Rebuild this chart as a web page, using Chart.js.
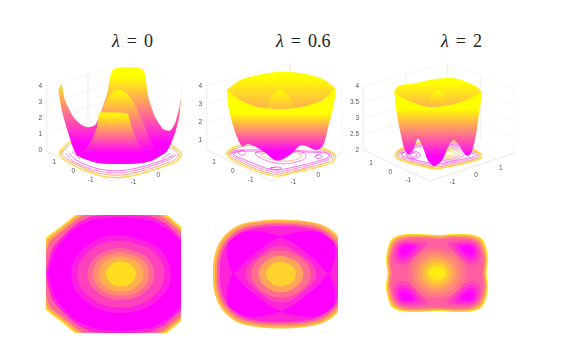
<!DOCTYPE html>
<html>
<head>
<meta charset="utf-8">
<style>
  body { margin: 0; background: #fff; }
  canvas { position: absolute; }
  .t { position: absolute; top: 31px; font: 18px "Liberation Serif", serif; word-spacing: 2.5px; color: #222; white-space: nowrap; }
</style>
<script src="https://cdn.jsdelivr.net/npm/chart.js@4"></script>
</head>
<body>
<div class="t" style="left:112px"><i>λ</i> = 0</div>
<div class="t" style="left:276px"><i>λ</i> = 0.6</div>
<div class="t" style="left:441px"><i>λ</i> = 2</div>

<canvas id="s0" width="160" height="128" style="left:30px;top:62px"></canvas>
<canvas id="s1" width="164" height="128" style="left:190px;top:62px"></canvas>
<canvas id="s2" width="170" height="128" style="left:347px;top:62px"></canvas>
<canvas id="h0" width="135" height="118" style="left:46px;top:215px"></canvas>
<canvas id="h1" width="132" height="120" style="left:206px;top:214px"></canvas>
<canvas id="h2" width="120" height="120" style="left:377px;top:213px"></canvas>

<script>
// ---- top row: view position u, height z ----
const zTicks0 = [0, 1, 2, 3, 4];
const zTicks1 = [1, 2, 3, 4];
const zTicks2 = [2, 2.5, 3, 3.5, 4];

const floorText0 = ["1", "0", "-1", "-1", "0"];
const floorU0 = [-5.57, -3.67, -1.93, 2.33, 4.83];
const floorZ0 = [-0.79, -1.35, -1.9, -2.02, -1.6];
const floorText1 = ["1", "0", "-1", "-1", "0"];
const floorU1 = [-5.6, -3.73, -1.93, 2.33, 4.83];
const floorZ1 = [-0.2, -0.69, -1.16, -1.27, -0.91];
const floorText2 = ["1", "0", "-1", "-1", "0", "1"];
const floorU2 = [-5.9, -4, -2.2, 2.17, 4.53, 7];
const floorZ2 = [1.6, 1.3, 1.05, 0.98, 1.21, 1.44];

const box0 = [
  [[-6.33, 4.02], [-6.33, -0.1]], [[7.17, -0.21], [7.17, 3.85], [2, 5.42], [-6.33, 4.02]],
  [[2, 5.42], [2, 1.25]], [[-2.2, 4.7], [-2.2, 0.6]],
  [[-6.33, 3], [2, 4.42], [7.17, 2.85]], [[-6.33, 2], [2, 3.42], [7.17, 1.85]], [[-6.33, 1], [2, 2.42], [7.17, 0.85]],
];
const box1 = [
  [[-6.33, 4], [-6.33, 0.49]], [[7.17, 0.31], [7.17, 3.85], [2, 5.22], [-6.33, 4]],
  [[2, 5.22], [2, 1.58]], [[-2.2, 4.6], [-2.2, 1.05]], [[4.6, 4.55], [4.6, 0.95]],
  [[-6.33, 3], [2, 4.22], [7.17, 2.85]], [[-6.33, 2], [2, 3.22], [7.17, 1.85]], [[-6.33, 1], [2, 2.22], [7.17, 0.85]],
];
const box2 = [
  [[-6.67, 4.01], [-6.67, 2]], [[8.33, 1.9], [8.33, 3.93], [1.67, 4.71], [-6.67, 4.01]],
  [[1.67, 4.71], [1.67, 2.68]], [[-2.5, 4.35], [-2.5, 2.35]], [[5, 4.32], [5, 2.3]],
  [[-6.67, 3.5], [1.67, 4.2], [8.33, 3.42]], [[-6.67, 3], [1.67, 3.7], [8.33, 2.92]], [[-6.67, 2.5], [1.67, 3.2], [8.33, 2.42]],
];
const edge0 = [[-6.33, -0.1], [0.17, -1.94], [7.17, -0.21]];
const edge1 = [[-6.33, 0.49], [0.17, -1.2], [7.17, 0.31]];
const edge2 = [[-6.67, 2], [-0.1, 1.03], [8.33, 1.9]];

const floor0Yellow = [[-5.07, -0.21], [-4.5, 0.25], [-3.67, 0.58], [1.07, 1.04], [5.67, 0.42], [7.13, -0.31], [6, -0.88], [1.67, -1.67], [-1, -1.6], [-4, -0.83]];
const floor0Orange = [[-4.83, -0.21], [-4.33, 0.17], [-3.5, 0.52], [1.07, 0.94], [5.53, 0.29], [6.87, -0.31], [5.83, -0.79], [1.67, -1.52], [-1, -1.46], [-3.83, -0.75]];
const floor0Pink = [[-4.4, -0.2], [-3.7, -0.7], [-1, -1.33], [1.67, -1.38], [5.6, -0.7], [6.6, -0.3]];
const floor0Magenta = [[-4.1, -0.2], [-3.4, -0.62], [-1, -1.2], [1.67, -1.25], [5.4, -0.62], [6.3, -0.3]];
const floor0StubA = [[-3.8, -0.1], [-3, -0.56]];
const floor0StubB = [[6, -0.2], [5.2, -0.55]];

const floor1Yellow = [[-4.33, 0.27], [-3.67, 0.64], [-1.33, 0.89], [2, 0.95], [5.33, 0.58], [6.53, 0.22], [6.17, -0.2], [2.33, -0.75], [0.33, -0.93], [-3, -0.27]];
const floor1Orange = [[-4.13, 0.27], [-3.53, 0.56], [-1.33, 0.8], [2, 0.85], [5.27, 0.49], [6.33, 0.22], [6, -0.13], [2.33, -0.65], [0.33, -0.82], [-2.83, -0.2]];
const floor1Pink = [[-3.93, 0.27], [-3.33, 0.49], [5.17, 0.4], [6.13, 0.22], [5.8, -0.05], [2.33, -0.55], [0.33, -0.71], [-2.67, -0.13]];
const floor1Magenta = [[-3.73, 0.27], [-3.17, 0.42], [5, 0.35], [5.93, 0.22], [5.6, 0.02], [2.33, -0.45], [0.33, -0.6], [-2.5, -0.05]];
const floor1LoopA = [[-3.17, 0.35], [-2.83, 0.47], [-2.43, 0.35], [-2.83, 0.2]];
const floor1LoopB = [[4.5, 0.13], [4.83, 0.24], [5.23, 0.13], [4.83, 0.02]];
const floor1LoopC = [[0, -0.51], [0.6, -0.44], [1.17, -0.51], [0.6, -0.58]];
const floor1LoopD = [[-1.5, 0.31], [0.67, 0.5], [3.5, 0.3], [3.33, -0.05], [0.67, -0.24]];
const floor1LoopE = [[-0.9, 0.25], [0.9, 0.45], [3.05, 0.25], [2.9, 0], [0.7, -0.1]];

const floor2Yellow = [[-3.5, 1.88], [-3, 2.02], [-0.67, 2.26], [2.33, 2.29], [4.5, 1.98], [5.07, 1.84], [4.83, 1.71], [1, 1.43], [-0.17, 1.45], [-3.17, 1.71]];
const floor2Orange = [[-3.3, 1.88], [-2.85, 2], [-0.67, 2.22], [2.33, 2.25], [4.35, 1.96], [4.85, 1.84], [4.65, 1.74], [1, 1.48], [-0.17, 1.5], [-3, 1.75]];
const floor2Pink = [[-3.1, 1.88], [-2.7, 1.97], [-0.67, 2.18], [2.33, 2.21], [4.2, 1.94], [4.65, 1.84], [4.45, 1.77], [1, 1.53], [-0.17, 1.55], [-2.85, 1.78]];
const floor2Magenta = [[-2.9, 1.88], [-2.5, 1.95], [-0.67, 2.14], [2.33, 2.17], [4, 1.92], [4.4, 1.84], [4.2, 1.79], [1, 1.58], [-0.17, 1.6], [-2.65, 1.8]];
const floor2LoopA = [[0.23, 1.9], [1.83, 2.15], [3.43, 1.9], [1.83, 1.65]];
const floor2LoopB = [[0.53, 1.9], [1.83, 2.1], [3.13, 1.9], [1.83, 1.7]];
const floor2LoopC = [[0.83, 1.9], [1.83, 2.06], [2.83, 1.9], [1.83, 1.74]];
const floor2LoopD = [[1.13, 1.9], [1.83, 2.01], [2.53, 1.9], [1.83, 1.79]];
const floor2LoopE = [[1.43, 1.9], [1.83, 1.97], [2.23, 1.9], [1.83, 1.83]];
const floor2LoopF = [[-2.4, 1.85], [-1.7, 1.97], [-1, 1.85], [-1.7, 1.73]];
const floor2LoopG = [[-2.1, 1.85], [-1.7, 1.92], [-1.3, 1.85], [-1.7, 1.78]];

const surf0Back = [[-4.83, 4.17], [-4.5, 3.13], [-3.67, 2.08], [-2.83, 1.56], [-2.17, 1.42], [-1.5, 1.56], [-1, 2.19], [-0.27, 3.54], [0.33, 5.04], [3.27, 5.04], [3.83, 3.33], [4.5, 2.08], [5.33, 1.29], [6, 1.21], [6.5, 1.67], [6.93, 2.71], [7.1, 3.29], [6.93, 2.08], [6.5, 1.04], [5.67, -0.1], [4.33, -0.63], [3.33, -0.79], [1, -0.88], [-1.33, -0.79], [-3.33, -0.31], [-4.17, 1.04], [-4.83, 2.5], [-5.17, 3.75]];
const surf0Hump = [[-1, 2.08], [-0.27, 3.23], [0.33, 3.65], [0.93, 3.75], [1.6, 3.58], [2.33, 3.02], [3.33, 1.67], [4.17, 0.42], [4.83, -0.31], [1, -0.63], [-1, -0.21]];
const surf0Front = [[-1.1, 2.35], [1.73, 2.29], [2.17, 1.46], [2.83, 0.42], [3.83, -0.38], [4.33, -0.63], [3.33, -0.79], [1, -0.88], [-1.33, -0.79], [-3.33, -0.31], [-2.67, -0.1], [-1.83, 0.63], [-1.27, 1.46]];

const surf1Back = [[-4.33, 3.76], [-3, 4.31], [-1.33, 4.58], [1, 4.76], [3.33, 4.67], [5.33, 4.35], [6.5, 3.85], [6.5, 3.67], [3, 2.49], [1, 2.33], [-1.33, 2.49], [-4.33, 3.67]];
const surf1Hump = [[-0.5, 2.67], [0.17, 3.44], [1, 3.76], [1.83, 3.44], [2.67, 2.67]];
const surf1Front = [[-4.33, 3.8], [-3, 3.22], [-1.33, 2.85], [1, 2.71], [3, 2.82], [5.33, 3.22], [6.5, 3.8], [6.33, 2.85], [5.83, 1.76], [5.33, 0.76], [4.67, 0.49], [3.17, 0.76], [2, 0.22], [0.67, -0.09], [-0.73, 0.45], [-2.17, 0.82], [-2.83, 0.71], [-3.67, 1.76], [-4.17, 2.85]];

const surf2Back = [[-3.57, 3.85], [-3.17, 4.01], [-1.67, 4.08], [0.33, 4.21], [2.33, 4.24], [4.33, 4.03], [5.07, 3.82], [5.07, 3.72], [2, 3.15], [-0.33, 3.15], [-3.57, 3.72]];
const surf2Hump = [[-0.17, 3.38], [0.17, 3.75], [0.73, 3.88], [1.33, 3.75], [1.83, 3.38]];
const surf2Front = [[-3.57, 3.83], [-2.67, 3.61], [-0.33, 3.35], [2, 3.41], [4, 3.61], [5.07, 3.81], [4.83, 3.15], [4.5, 2.42], [4.07, 1.92], [3.73, 1.81], [3.33, 1.9], [2.83, 2.16], [2.33, 2.31], [1.83, 2.16], [1.17, 1.69], [0.4, 1.5], [-0.27, 1.69], [-0.83, 2.16], [-1.23, 2.36], [-1.67, 2.05], [-2.17, 1.86], [-2.6, 2.05], [-3.17, 2.83], [-3.5, 3.46]];

// ---- bottom row: contour bands, one quarter each (x>=0, y>=0), they repeat in all quadrants ----
const heat0Bands = [
  [[0, 1.33], [0.67, 1.3], [0.93, 1.17], [1.2, 0.95], [1.5, 0.71], [1.65, 0]],
  [[0, 1.3], [0.65, 1.27], [0.91, 1.14], [1.18, 0.92], [1.47, 0.68], [1.62, 0]],
  [[0, 1.26], [0.63, 1.23], [0.88, 1.1], [1.15, 0.88], [1.43, 0.64], [1.58, 0]],
  [[0, 1.2], [0.6, 1.15], [0.85, 1.03], [1.1, 0.82], [1.37, 0.52], [1.5, 0]],
  [[0, 1.14], [0.6, 1.07], [1, 0.85], [1.3, 0.5], [1.46, 0]],
  [[0, 0.78], [0.71, 0.55], [1, 0]],
  [[0, 0.67], [0.62, 0.47], [0.87, 0]],
  [[0, 0.52], [0.47, 0.37], [0.67, 0]],
  [[0, 0.43], [0.4, 0.31], [0.56, 0]],
  [[0, 0.35], [0.32, 0.25], [0.45, 0]],
  [[0, 0.25], [0.21, 0.18], [0.3, 0]],
];
const heat0Levels = [215, 160, 100, 35, 0, 30, 65, 105, 140, 175, 222];

const heat1Bands = [
  [[0, 1.09], [0.48, 1.06], [0.88, 0.96], [1.18, 0.71], [1.33, 0.37], [1.36, 0]],
  [[0, 1.05], [0.47, 1.03], [0.85, 0.93], [1.15, 0.68], [1.29, 0.35], [1.32, 0]],
  [[0, 1.01], [0.45, 0.98], [0.82, 0.89], [1.11, 0.65], [1.25, 0.33], [1.28, 0]],
  [[0, 0.96], [0.42, 0.94], [0.78, 0.85], [1.06, 0.63], [1.2, 0.31], [1.23, 0]],
];
const heat1Levels = [195, 150, 90, 35];
const heat1Lobe = [[0, 0.75], [0.41, 0.85], [0.75, 0.84], [1.05, 0.64], [1.08, 0.37], [0.96, 0], [0.7, 0.27], [0.45, 0.47], [0.2, 0.65]];
const heat1Core = [
  [[0, 0.57], [0.45, 0.35], [0.71, 0]],
  [[0, 0.47], [0.41, 0.32], [0.6, 0]],
  [[0, 0.36], [0.31, 0.25], [0.45, 0]],
  [[0, 0.245], [0.21, 0.17], [0.3, 0]],
];
const heat1CoreLevels = [70, 110, 165, 210];

const heat2Bands = [
  [[0, 0.76], [0.35, 0.78], [0.69, 0.77], [0.88, 0.7], [0.97, 0.55], [1.02, 0.27], [0.99, 0]],
  [[0, 0.745], [0.35, 0.765], [0.68, 0.755], [0.865, 0.685], [0.955, 0.54], [1, 0.265], [0.975, 0]],
  [[0, 0.725], [0.35, 0.745], [0.665, 0.73], [0.84, 0.66], [0.93, 0.52], [0.98, 0.255], [0.95, 0]],
  [[0, 0.7], [0.34, 0.72], [0.645, 0.705], [0.815, 0.635], [0.905, 0.495], [0.955, 0.245], [0.925, 0]],
  [[0, 0.67], [0.33, 0.69], [0.62, 0.675], [0.785, 0.605], [0.875, 0.47], [0.925, 0.23], [0.895, 0]],
];
const heat2Levels = [230, 190, 150, 115, 95];
const heat2Lobes = [
  [[0.2, 0.6], [0.45, 0.64], [0.72, 0.63], [0.85, 0.48], [0.85, 0.25], [0.7, 0.16], [0.5, 0.25], [0.33, 0.44]],
  [[0.33, 0.57], [0.52, 0.61], [0.73, 0.58], [0.81, 0.45], [0.79, 0.28], [0.67, 0.24], [0.5, 0.32], [0.4, 0.44]],
  [[0.42, 0.55], [0.58, 0.58], [0.72, 0.55], [0.78, 0.43], [0.74, 0.32], [0.63, 0.31], [0.52, 0.39]],
  [[0.48, 0.52], [0.62, 0.55], [0.71, 0.5], [0.73, 0.41], [0.66, 0.37], [0.55, 0.42]],
];
const heat2LobeLevels = [70, 45, 20, 0];
const heat2Core = [
  [[0, 0.5], [0.41, 0.35], [0.58, 0]],
  [[0, 0.43], [0.34, 0.3], [0.48, 0]],
  [[0, 0.36], [0.28, 0.25], [0.4, 0]],
  [[0, 0.29], [0.23, 0.2], [0.32, 0]],
  [[0, 0.22], [0.17, 0.15], [0.24, 0]],
  [[0, 0.14], [0.12, 0.1], [0.17, 0]],
];
const heat2CoreLevels = [115, 135, 155, 180, 205, 235];

function spring(g) {
  return `rgb(255,${g},${255 - g})`;
}

function toXY(points) {
  return points.map(([x, y]) => ({ x, y }));
}

// repeat the first two points so a smoothed ring closes without a kink
function closeRing(points) {
  return [...points, points[0], points[1]];
}

function mirrorRing(quarter) {
  const back = quarter.slice().reverse();
  const ring = [
    ...quarter,
    ...back.slice(1).map(([x, y]) => [x, -y]),
    ...quarter.slice(1).map(([x, y]) => [-x, -y]),
    ...back.slice(1, -1).map(([x, y]) => [-x, y]),
  ];
  return closeRing(ring);
}

function flip(points, sx, sy) {
  return points.map(([x, y]) => [x * sx, y * sy]);
}

function shape(points, color, tension = 0.3) {
  return { data: toXY(points), showLine: true, pointRadius: 0, borderWidth: 0, fill: "shape", backgroundColor: color, tension };
}

function stroke(points, color, width = 0.7, tension = 0.35) {
  return { data: toXY(points), showLine: true, pointRadius: 0, borderWidth: width, borderColor: color, fill: false, tension };
}

// colour follows the height, magenta low and yellow high
function zGradient(top, bottom) {
  return function (context) {
    const chart = context.chart;
    if (!chart.chartArea) return "#ff00ff";
    const yScale = chart.scales.y;
    const g = chart.ctx.createLinearGradient(0, yScale.getPixelForValue(top), 0, yScale.getPixelForValue(bottom));
    g.addColorStop(0, "#ffff00");
    g.addColorStop(1, "#ff00ff");
    return g;
  };
}

// first dataset listed is painted first
function inOrder(datasets) {
  datasets.forEach((d, i) => (d.order = datasets.length - i));
  return datasets;
}

const floorLabels = {
  id: "floorLabels",
  afterDraw(chart, args, opts) {
    const ctx = chart.ctx;
    ctx.save();
    ctx.font = '6.5px "Liberation Sans"';
    ctx.fillStyle = "#555";
    ctx.textAlign = "center";
    ctx.textBaseline = "middle";
    opts.text.forEach((t, i) => {
      ctx.fillText(t, chart.scales.x.getPixelForValue(opts.u[i]), chart.scales.y.getPixelForValue(opts.z[i]));
    });
    ctx.restore();
  },
};

function surfaceChart(id, cfg) {
  return new Chart(document.getElementById(id), {
    type: "scatter",
    data: { datasets: inOrder(cfg.datasets) },
    plugins: [floorLabels],
    options: {
      responsive: false,
      animation: false,
      layout: { autoPadding: false },
      events: [],
      plugins: {
        legend: { display: false },
        tooltip: { enabled: false },
        floorLabels: { text: cfg.text, u: cfg.u, z: cfg.z },
      },
      scales: {
        x: { type: "linear", display: false, min: cfg.xMin, max: cfg.xMax },
        y: {
          type: "linear",
          min: cfg.zMin,
          max: cfg.zMax,
          grid: { display: false, drawTicks: false },
          border: { display: false },
          ticks: { padding: 2, color: "#555", font: { size: 6.5, family: "Liberation Sans" }, callback: (v) => String(v) },
          afterFit: (s) => { s.width = 14; s.paddingTop = 0; s.paddingBottom = 0; },
          afterBuildTicks: (s) => { s.ticks = cfg.ticks.map((value) => ({ value })); },
        },
      },
    },
  });
}

function heatChart(id, xMin, xMax, yMin, yMax, datasets) {
  return new Chart(document.getElementById(id), {
    type: "scatter",
    data: { datasets: inOrder(datasets) },
    options: {
      responsive: false,
      animation: false,
      layout: { autoPadding: false },
      events: [],
      plugins: { legend: { display: false }, tooltip: { enabled: false } },
      scales: {
        x: { type: "linear", display: false, min: xMin, max: xMax },
        y: { type: "linear", display: false, min: yMin, max: yMax },
      },
    },
  });
}

const boxColor = "#f0f0f0";
const edgeColor = "#d6d6d6";

surfaceChart("s0", {
  xMin: -6.6, xMax: 8, zMin: -2.5, zMax: 5.5, ticks: zTicks0,
  text: floorText0, u: floorU0, z: floorZ0,
  datasets: [
    ...box0.map((l) => stroke(l, boxColor, 0.6, 0)),
    stroke(edge0, edgeColor, 0.6, 0),
    stroke(closeRing(floor0Yellow), "#ffd84a", 1.4),
    stroke(closeRing(floor0Orange), "#ff9c70", 0.9),
    stroke(floor0Pink, "#ff60d0"),
    stroke(floor0Magenta, "#ff30f0"),
    stroke(floor0StubA, "#ff30f0"),
    stroke(floor0StubB, "#ff30f0"),
    shape(surf0Back, zGradient(4.58, 0.42), 0.2),
    shape(surf0Hump, zGradient(3.75, -0.1), 0.25),
    shape(surf0Front, zGradient(2.29, -0.21), 0.15),
  ],
});

surfaceChart("s1", {
  xMin: -6.6, xMax: 8.4, zMin: -1.7, zMax: 5.3, ticks: zTicks1,
  text: floorText1, u: floorU1, z: floorZ1,
  datasets: [
    ...box1.map((l) => stroke(l, boxColor, 0.6, 0)),
    stroke(edge1, edgeColor, 0.6, 0),
    stroke(closeRing(floor1Yellow), "#ffd84a", 1.4),
    stroke(closeRing(floor1Orange), "#ff9c70", 0.9),
    stroke(closeRing(floor1Pink), "#ff60d0"),
    stroke(closeRing(floor1Magenta), "#ff30f0"),
    stroke(closeRing(floor1LoopA), "#ff30f0", 0.7, 0.4),
    stroke(closeRing(floor1LoopB), "#ff30f0", 0.7, 0.4),
    stroke(closeRing(floor1LoopC), "#ff30f0", 0.7, 0.4),
    stroke(closeRing(floor1LoopD), "#ff50d8", 0.7, 0.4),
    stroke(closeRing(floor1LoopE), "#ffa060", 0.7, 0.4),
    shape(surf1Back, zGradient(4.49, -1.15), 0.3),
    shape(surf1Hump, zGradient(3.76, 0), 0.35),
    shape(surf1Front, zGradient(2.49, 0.4), 0.3),
  ],
});

surfaceChart("s2", {
  xMin: -6.9, xMax: 8.6, zMin: 0.75, zMax: 4.75, ticks: zTicks2,
  text: floorText2, u: floorU2, z: floorZ2,
  datasets: [
    ...box2.map((l) => stroke(l, boxColor, 0.6, 0)),
    stroke(edge2, edgeColor, 0.6, 0),
    stroke(closeRing(floor2Yellow), "#ffd84a", 1.7),
    stroke(closeRing(floor2Orange), "#ff9c70", 1),
    stroke(closeRing(floor2Pink), "#ff60d0"),
    stroke(closeRing(floor2Magenta), "#ff30f0"),
    stroke(closeRing(floor2LoopA), "#ff50d8", 0.7, 0.4),
    stroke(closeRing(floor2LoopB), "#ff7aa8", 0.7, 0.4),
    stroke(closeRing(floor2LoopC), "#ffa060", 0.7, 0.4),
    stroke(closeRing(floor2LoopD), "#ffc040", 0.7, 0.4),
    stroke(closeRing(floor2LoopE), "#ffdc20", 0.7, 0.4),
    stroke(closeRing(floor2LoopF), "#ff30f0", 0.7, 0.4),
    stroke(closeRing(floor2LoopG), "#ff30f0", 0.7, 0.4),
    shape(surf2Back, zGradient(4.1, 1.5), 0.3),
    shape(surf2Hump, zGradient(3.88, 2), 0.35),
    shape(surf2Front, zGradient(3.3, 1.79), 0.25),
  ],
});

heatChart("h0", -1.5, 1.2, -1.18, 1.18,
  heat0Bands.map((b, i) => shape(mirrorRing(b), spring(heat0Levels[i]), i < 5 ? 0.15 : 0.4)));

const quadrants = [[1, 1], [-1, 1], [-1, -1], [1, -1]];

heatChart("h1", -1.5, 1.14, -1.2, 1.2, [
  ...heat1Bands.map((b, i) => shape(mirrorRing(b), spring(heat1Levels[i]), 0.35)),
  ...quadrants.map(([sx, sy]) => shape(closeRing(flip(heat1Lobe, sx, sy)), spring(0), 0.2)),
  ...heat1Core.map((b, i) => shape(mirrorRing(b), spring(heat1CoreLevels[i]), 0.4)),
]);

heatChart("h2", -1.2, 1.2, -1.2, 1.2, [
  ...heat2Bands.map((b, i) => shape(mirrorRing(b), spring(heat2Levels[i]), 0.35)),
  ...heat2Lobes.flatMap((lobe, i) =>
    quadrants.map(([sx, sy]) => shape(closeRing(flip(lobe, sx, sy)), spring(heat2LobeLevels[i]), 0.35))),
  ...heat2Core.map((b, i) => shape(mirrorRing(b), spring(heat2CoreLevels[i]), 0.4)),
]);
</script>
</body>
</html>
